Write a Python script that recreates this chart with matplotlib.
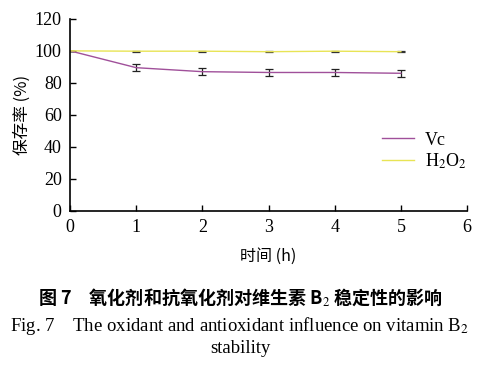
import matplotlib.pyplot as plt
from matplotlib.lines import Line2D

plt.rcParams['font.family'] = ['Liberation Serif', 'Noto Sans CJK SC']
plt.rcParams['mathtext.fontset'] = 'stix'

hours = [0, 1, 2, 3, 4, 5]
vc = [100, 89.5, 87, 86.5, 86.5, 86]
vc_err = [0, 2, 2, 2.2, 2, 2.2]
h2o2 = [100, 99.8, 99.8, 99.5, 99.8, 99.5]
h2o2_err = [0, 0.3, 0.3, 0.3, 0.3, 0.3]

x_ticks = [0, 1, 2, 3, 4, 5, 6]
y_ticks = [0, 20, 40, 60, 80, 100, 120]

vc_color = '#a0509a'
h2o2_color = '#e8e455'

fig = plt.figure(figsize=(4.8, 3.7), dpi=100)
ax = fig.add_axes([0.146, 0.43, 0.827, 0.519])

ax.errorbar(hours, vc, yerr=vc_err, color=vc_color, lw=1.0, ecolor='#222222',
            elinewidth=0.9, capsize=3, capthick=0.9)
ax.errorbar(hours, h2o2, yerr=h2o2_err, color=h2o2_color, lw=1.0, ecolor='#333333',
            elinewidth=0.9, capsize=3, capthick=0.9)

ax.set_xlim(0, 6)
ax.set_ylim(0, 120)
ax.set_xticks(x_ticks)
ax.set_yticks(y_ticks)
ax.tick_params(direction='in', length=4, width=1, labelsize=13, pad=6)
for s in ['top', 'right']:
    ax.spines[s].set_visible(False)
for s in ['left', 'bottom']:
    ax.spines[s].set_linewidth(1.2)

ax.set_ylabel('保存率 (%)', fontsize=12, labelpad=3, family=['Noto Sans CJK SC'])
ax.set_xlabel('时间 (h)', fontsize=11.5, labelpad=8, family=['Noto Sans CJK SC'])

handles = [Line2D([], [], color=vc_color, lw=1.0), Line2D([], [], color=h2o2_color, lw=1.0)]
ax.legend(handles, ['Vc', 'H$_2$O$_2$'], loc='center right', bbox_to_anchor=(1.04, 0.31),
          frameon=False, fontsize=13, handlelength=1.8, handletextpad=0.6, labelspacing=0.15)

fig.text(0.5, 0.197, '图 7　氧化剂和抗氧化剂对维生素 B$_2$ 稳定性的影响', ha='center', va='center',
         fontsize=13, fontweight='bold', family=['Noto Sans CJK SC', 'Liberation Serif'])
fig.text(0.5, 0.118, 'Fig. 7    The oxidant and antioxidant influence on vitamin B$_2$',
         ha='center', va='center', fontsize=13.5)
fig.text(0.5, 0.058, 'stability', ha='center', va='center', fontsize=13.5)

fig.savefig('out.png', dpi=100)
